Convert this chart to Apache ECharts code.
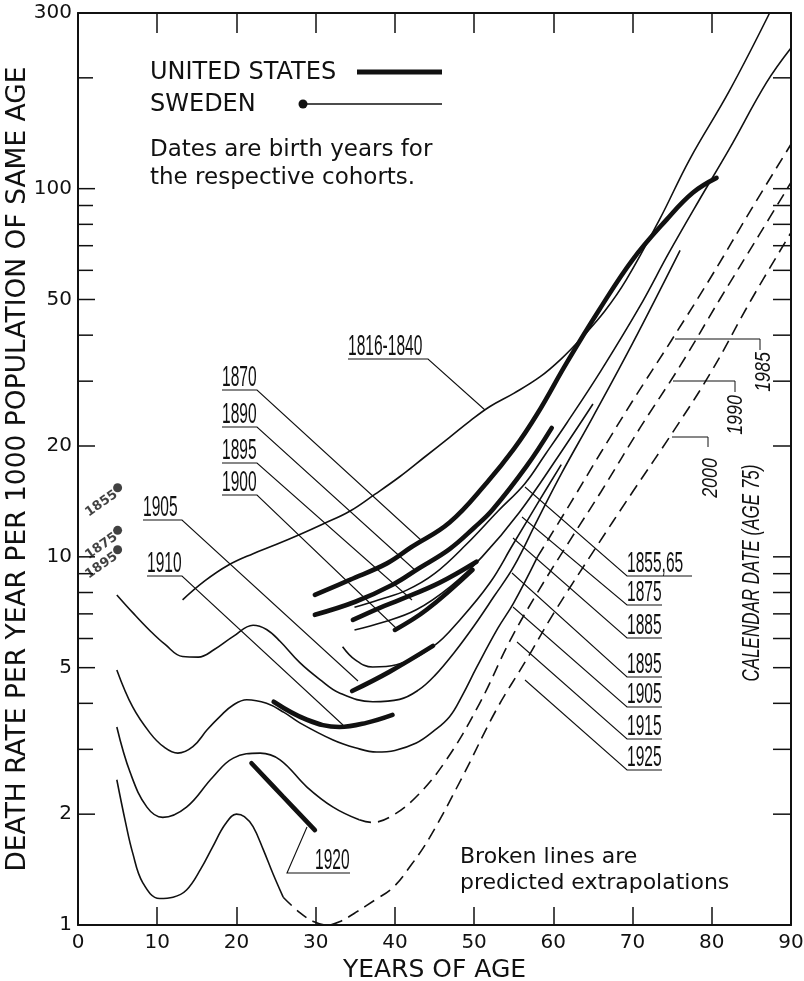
<!DOCTYPE html>
<html><head><meta charset="utf-8">
<script src="https://cdn.jsdelivr.net/npm/echarts@6/dist/echarts.min.js"></script>
<style>html,body{margin:0;padding:0;background:#fff}#c{width:804px;height:981px}</style>
</head><body><div id="c"></div>
<script>
// ---------- axis ticks ----------
const xTickValues = [0,10,20,30,40,50,60,70,80,90];
const yTickValues = [2,3,4,5,6,7,8,9,10,20,30,40,50,60,70,80,90,100,200];
const yTickLabels = [1,2,5,10,20,50,100,300];

// ---------- Sweden single points at age 5 ----------
const swedenDotCohorts = ['1855','1875','1895'];
const swedenDotAge = 5;
const swedenDotValues = [15.4, 11.8, 10.45];

// ---------- Sweden cohorts (thin lines) : [age, deaths per 1000] ----------
const sw1816_1840 = [[13.2,7.64],[16,8.6],[19,9.5],[22.1,10.2],[25,10.8],[28,11.5],[31,12.3],[34.3,13.3],[37.5,14.8],[40.6,16.5],[43.8,18.7],[46.9,21.1],[49.5,23.4],[52,25.6],[55,27.8],[58.3,30.8],[61,34.5],[63.7,39.6],[66.5,46.5],[69.2,56.5],[73.4,82.4],[77.2,120],[82.2,184],[87.3,300]];
const sw1855_65 = [[34.9,7.3],[38,7.65],[41.5,8.12],[45,9.0],[49,10.8],[53,13.3],[56.4,15.8],[59,19.0],[61.7,23.1],[66,32],[70.9,47.8],[74.6,67],[78.4,93],[82.2,128],[86.9,194],[90,241]];
const sw1875 = [[34.9,6.33],[38.5,6.64],[42.7,7.18],[47,8.3],[51,10.0],[55.7,13.2],[60.8,19.0],[65,26]];
const sw1885 = [[33.4,5.7],[35,5.25],[37.2,5.02],[40.2,5.09],[44.8,5.7],[48.2,6.74],[52,8.5],[54.9,10.8],[58.3,14.3],[61,17.8]];
const sw1895 = [[4.9,7.88],[7,7.02],[9,6.33],[11,5.78],[13.2,5.36],[15.2,5.34],[17.2,5.6],[19.6,6.08],[22.1,6.52],[23.8,6.35],[25.5,5.9],[28,5.16],[30.5,4.65],[33,4.27],[37.2,4.04],[40.6,4.1],[43,4.35],[45,4.75],[47.5,5.5],[50,6.5],[52.5,7.8],[55,9.4],[58,12.6],[61,16.8],[65,24],[70,38],[76,68]];
const sw1905 = [[4.9,4.93],[6.9,3.91],[9.1,3.32],[10.8,3.05],[12.6,2.93],[14.5,3.05],[16.3,3.39],[18,3.7],[19.6,3.96],[21.3,4.09],[23.8,4.0],[26,3.78],[28,3.54],[32.2,3.18],[35,3.03],[37.7,2.95],[40,2.98],[42.7,3.12],[44.8,3.35],[46.9,3.68],[48.5,4.2],[50.3,5.0],[53,6.4],[55,7.5],[58,10.0]];
const sw1905Predicted = [[58,10.0],[62,13.8],[66,19.2],[70,26.5],[75,39],[80,58],[85,88],[90,132]];
const sw1915 = [[4.9,3.45],[6.6,2.59],[8.7,2.09],[10.7,1.96],[13.7,2.09],[17,2.52],[19.6,2.84],[23,2.93],[25.5,2.81],[28.9,2.37],[32.2,2.09],[35.5,1.93]];
const sw1915Predicted = [[35.5,1.93],[37,1.9],[39.3,1.96],[42.7,2.23],[46.5,2.81],[50.7,4.0],[54.5,5.9],[58,8.0],[62,11.0],[66,15.0],[71,22.5],[76,33],[81,50],[86,75],[90,104]];
const sw1925 = [[4.9,2.48],[6,1.9],[6.9,1.57],[8.2,1.3],[10.3,1.18],[12,1.19],[13.7,1.245],[15.5,1.42],[17,1.63],[18.6,1.88],[20,2.0],[21,1.97],[22.1,1.85],[23.4,1.6],[24.6,1.38],[25.9,1.19]];
const sw1925Predicted = [[25.9,1.19],[28,1.08],[29.8,1.02],[31.4,1.0],[33,1.02],[35,1.08],[37.5,1.17],[39.7,1.26],[42,1.45],[44.4,1.73],[48.5,2.52],[52.8,3.84],[56.6,5.25],[60,7.0],[65,10.3],[70,15.0],[75.5,22.5],[80,32],[85,50],[90,76]];

// ---------- United States cohorts (thick lines) ----------
const us1870 = [[29.9,7.88],[34.3,8.66],[39,9.6],[42,10.6],[46.9,12.4],[51.6,15.9],[55,19.6],[58,24.5],[61.7,33.7],[65.8,46.9],[70,64.1],[74.3,82.4],[77.6,97.5],[80.6,107]];
const us1890 = [[29.9,6.96],[35,7.55],[39.7,8.4],[43,9.3],[46.9,10.5],[50,12.0],[52.3,13.4],[56.6,17.6],[59.8,22.4]];
const us1895 = [[34.7,6.74],[38.1,7.27],[40.6,7.64],[45.6,8.5],[50.3,9.7]];
const us1900 = [[40,6.33],[44,7.18],[49.8,9.22]];
const us1905 = [[34.6,4.32],[39.3,4.87],[44.8,5.73]];
const us1910 = [[24.7,4.04],[28.9,3.61],[33,3.45],[36.4,3.54],[39.7,3.72]];
const us1920 = [[21.9,2.75],[25.9,2.23],[29.9,1.81]];

// ---------- annotation texts ----------
const leftCohortLabels = ['1816-1840','1870','1890','1895','1900','1905','1910','1920'];
const rightCohortLabels = ['1855,65','1875','1885','1895','1905','1915','1925'];
const calendarLabels = ['1985','1990','2000'];

const FONT = "'DejaVu Sans', 'Liberation Sans', sans-serif";
const NFONT = "'Liberation Sans', Arial, sans-serif";
const INK = '#111';

function thin(name, data){ return {type:'line', name, data, smooth:0.4, symbol:'none', silent:true, z:3,
  lineStyle:{color:INK, width:1.6}}; }
function thick(name, data){ return {type:'line', name, data, smooth:0.4, symbol:'none', silent:true, z:4,
  lineStyle:{color:INK, width:4.6, cap:'round'}}; }
function dashed(name, data){ return {type:'line', name, data, smooth:0.4, symbol:'none', silent:true, z:3,
  lineStyle:{color:INK, width:1.6, type:[12,7]}}; }

// ---------- graphic annotations (layout only) ----------
const g = [];
function T(text, x, y, font, extra){ const e = {type:'text', x, y, silent:true, z:10,
  style:{text, font, fill:INK, align:'left', verticalAlign:'middle'}}; Object.assign(e, extra||{}); g.push(e); }
function L(points, w){ g.push({type:'polyline', silent:true, z:10, shape:{points}, style:{stroke:INK, lineWidth:w||1, fill:null}}); }
const NUMSTYLE = {scaleX:0.74, scaleY:1.4};
function cohortLeft(text, x, yU, w, to){ T(text, x, yU-12, '21px '+NFONT, NUMSTYLE); L([[x,yU],[x+w,yU],to],1.1); }
function cohortRight(text, x, yU, w, to){ T(text, x, yU-12, '21px '+NFONT, NUMSTYLE); L([[x+w,yU],[x,yU],to],1.1); }

cohortLeft(leftCohortLabels[0], 348, 359, 80, [485,410]);
cohortLeft(leftCohortLabels[1], 222, 390, 35, [422,541]);
cohortLeft(leftCohortLabels[2], 222, 427, 35, [416,571]);
cohortLeft(leftCohortLabels[3], 222, 463, 35, [412,600]);
cohortLeft(leftCohortLabels[4], 222, 495, 35, [397,629]);
cohortLeft(leftCohortLabels[5], 143, 520, 39, [358,681]);
cohortLeft(leftCohortLabels[6], 147, 576, 35, [343,725]);
T(leftCohortLabels[7], 315, 861, '21px '+NFONT, NUMSTYLE); L([[350,873],[287,873],[307,827]],1.1);

const rightY = [576,605,638,677,707,739,770];
const rightTo = [[525,487],[522,517],[513,538],[512,573],[513,607],[517,642],[525,680]];
rightCohortLabels.forEach((t,i)=>cohortRight(t, 627, rightY[i], i===0?65:35, rightTo[i]));

// calendar date labels (rotated)
const calStyle = {rotation:Math.PI/2, scaleX:1.05, scaleY:1.3};
function R(text, x, y, font, extra){ g.push(Object.assign({type:'text', x, y, silent:true, z:10,
  style:{text, font, fill:INK, align:'center', verticalAlign:'middle'}}, extra)); }
L([[675,339],[760,339],[760,350]]); R(calendarLabels[0], 764, 372, 'italic 17px '+NFONT, calStyle);
L([[673,381],[735,381],[735,392]]); R(calendarLabels[1], 736, 415, 'italic 17px '+NFONT, calStyle);
L([[672,437],[708,437],[708,447]]); R(calendarLabels[2], 711, 478, 'italic 17px '+NFONT, calStyle);
R('CALENDAR DATE (AGE 75)', 752, 573, 'italic 17px '+NFONT, {rotation:Math.PI/2, scaleX:1.0, scaleY:1.45});

// legend & notes
T('UNITED STATES', 150, 73, '24px '+FONT);
g.push({type:'line', silent:true, z:10, shape:{x1:357,y1:72,x2:442,y2:72}, style:{stroke:INK, lineWidth:5}});
T('SWEDEN', 150, 105, '24px '+FONT);
g.push({type:'circle', silent:true, z:10, shape:{cx:303, cy:104, r:4.5}, style:{fill:INK}});
g.push({type:'line', silent:true, z:10, shape:{x1:303,y1:104,x2:442,y2:104}, style:{stroke:INK, lineWidth:1.5}});
T('Dates are birth years for', 150, 150, '23px '+FONT);
T('the respective cohorts.', 150, 178, '23px '+FONT);
T('Broken lines are', 460, 857, '22px '+FONT);
T('predicted extrapolations', 460, 883, '22px '+FONT);

const axisLineStyle = {color:INK, width:2};
const option = {
  animation:false,
  backgroundColor:'#fff',
  textStyle:{fontFamily:FONT, color:INK},
  grid:{left:78, right:13, top:13, bottom:56, outerBoundsMode:'none'},
  xAxis:[
    {type:'value', min:0, max:90, interval:10, position:'bottom',
     axisLine:{onZero:false, lineStyle:axisLineStyle},
     axisTick:{inside:true, length:18, lineStyle:{color:INK, width:1.5}},
     axisLabel:{color:INK, fontSize:20, margin:8, fontFamily:FONT},
     splitLine:{show:false},
     name:'YEARS OF AGE', nameLocation:'middle', nameGap:30,
     nameTextStyle:{fontSize:25, color:INK, fontFamily:FONT}},
    {type:'value', min:0, max:90, interval:10, position:'top',
     axisLine:{onZero:false, lineStyle:axisLineStyle},
     axisTick:{inside:true, length:20, lineStyle:{color:INK, width:1.5}},
     axisLabel:{show:false}, splitLine:{show:false}}
  ],
  yAxis:[
    {type:'log', logBase:10, min:1, max:300, position:'left',
     axisLine:{show:true, onZero:false, lineStyle:axisLineStyle},
     axisTick:{show:false}, axisLabel:{show:false}, splitLine:{show:false},
     name:'DEATH RATE PER YEAR PER 1000 POPULATION OF SAME AGE', nameLocation:'middle', nameGap:46, nameRotate:90,
     nameTextStyle:{fontSize:26.5, color:INK, fontFamily:FONT}},
    {type:'log', logBase:10, min:1, max:300, position:'right',
     axisLine:{show:true, onZero:false, lineStyle:axisLineStyle},
     axisTick:{show:false}, axisLabel:{show:false}, splitLine:{show:false}}
  ],
  graphic:g,
  series:[
    {type:'custom', name:'yTicks', clip:false, silent:true, z:5,
     data: yTickValues.map(v=>[0, v, yTickLabels.indexOf(v)>=0 ? 1 : 0]),
     encode:{x:0, y:1},
     renderItem:(params, api)=>{
       const v = api.value(1);
       const l = api.coord([0, v]), r = api.coord([90, v]);
       const len = api.value(2) ? 17 : 15;
       return {type:'group', children:[
         {type:'line', shape:{x1:l[0], y1:l[1], x2:l[0]+len, y2:l[1]}, style:{stroke:INK, lineWidth:1.5}},
         {type:'line', shape:{x1:r[0], y1:r[1], x2:r[0]-18, y2:r[1]}, style:{stroke:INK, lineWidth:1.5}}
       ]};
     }},
    {type:'custom', name:'yLabels', clip:false, silent:true, z:5,
     data: yTickLabels.map(v=>[0, v]),
     encode:{x:0, y:1},
     renderItem:(params, api)=>{
       const v = api.value(1);
       const p = api.coord([0, v]);
       return {type:'text', x:p[0]-6, y:p[1], style:{text:String(v), font:'20px '+FONT, fill:INK, align:'right', verticalAlign:'middle'}};
     }},
    thin('Sweden 1816-1840', sw1816_1840),
    thin('Sweden 1855,65', sw1855_65),
    thin('Sweden 1875', sw1875),
    thin('Sweden 1885', sw1885),
    thin('Sweden 1895', sw1895),
    thin('Sweden 1905', sw1905),
    dashed('Sweden 1905 predicted', sw1905Predicted),
    thin('Sweden 1915', sw1915),
    dashed('Sweden 1915 predicted', sw1915Predicted),
    thin('Sweden 1925', sw1925),
    dashed('Sweden 1925 predicted', sw1925Predicted),
    thick('US 1870', us1870),
    thick('US 1890', us1890),
    thick('US 1895', us1895),
    thick('US 1900', us1900),
    thick('US 1905', us1905),
    thick('US 1910', us1910),
    thick('US 1920', us1920),
    {type:'scatter', name:'Sweden age 5', z:6, silent:true, symbolSize:9, itemStyle:{color:INK},
     data: swedenDotCohorts.map((c,i)=>({name:c, value:[swedenDotAge, swedenDotValues[i]]})),
     label:{show:true, formatter:'{b}', position:'left', rotate:35, distance:3, offset:[2,8],
            fontSize:13, fontWeight:'bold', color:INK, fontFamily:FONT}}
  ]
};
const chart = echarts.init(document.getElementById('c'), null, {renderer:'canvas', width:804, height:981});
chart.setOption(option);
</script>
</body></html>
